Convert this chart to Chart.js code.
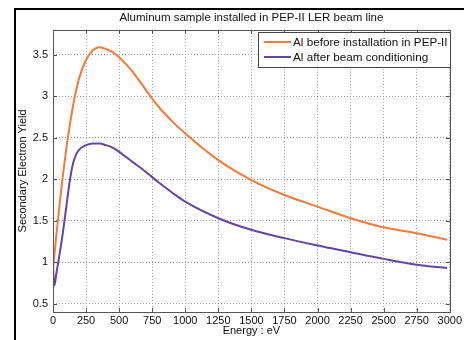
<!DOCTYPE html>
<html>
<head>
<meta charset="utf-8">
<script src="https://cdn.jsdelivr.net/npm/chart.js@4.4.1/dist/chart.umd.min.js"></script>
<style>
  body { margin: 0; background: #fff; }
  canvas { display: block; }
</style>
</head>
<body>
<canvas id="sey" width="464" height="340"></canvas>
<script>
// values
const energy = [0, 10, 25, 50, 75, 100, 125, 150, 175, 200, 250, 300, 350, 400, 450, 500, 550, 600, 700, 800, 900, 1000, 1250, 1500, 1750, 2000, 2250, 2500, 2750, 2980];
const yieldBefore = [0.92, 1.08, 1.32, 1.70, 2.05, 2.36, 2.63, 2.87, 3.07, 3.23, 3.44, 3.55, 3.59, 3.57, 3.53, 3.47, 3.39, 3.30, 3.08, 2.87, 2.70, 2.55, 2.23, 1.99, 1.81, 1.67, 1.53, 1.42, 1.35, 1.27];
const yieldAfter = [0.95, 0.72, 0.86, 1.10, 1.36, 1.66, 1.96, 2.18, 2.30, 2.36, 2.41, 2.43, 2.43, 2.41, 2.38, 2.33, 2.27, 2.21, 2.09, 1.96, 1.84, 1.73, 1.53, 1.39, 1.29, 1.20, 1.12, 1.04, 0.97, 0.93];
const seriesLabels = ['Al before installation in PEP-II', 'Al after beam conditioning'];
const yTicks = [0.5, 1, 1.5, 2, 2.5, 3, 3.5];

const FONT = '"Liberation Sans", Arial, sans-serif';
const colors = ['#f57a3c', '#6446a4'];

function toPoints(vals) {
  return energy.map((e, i) => ({ x: e, y: vals[i] }));
}

// outer frame, axes box with inward ticks, legend box
const framePlugin = {
  id: 'frame',
  beforeDraw(chart) {
    const ctx = chart.ctx;
    ctx.save();
    ctx.fillStyle = '#fff';
    ctx.fillRect(0, 0, chart.width, chart.height);
    ctx.strokeStyle = '#000';
    ctx.lineWidth = 2;
    ctx.beginPath();
    ctx.moveTo(15, chart.height + 2);
    ctx.lineTo(15, 9);
    ctx.lineTo(chart.width + 2, 9);
    ctx.stroke();
    ctx.restore();
  },
  afterDraw(chart) {
    const ctx = chart.ctx;
    const a = chart.chartArea;
    const xs = chart.scales.x, ys = chart.scales.y;
    ctx.save();
    ctx.strokeStyle = '#555';
    ctx.lineWidth = 1;
    ctx.strokeRect(Math.round(a.left) + 0.5, Math.round(a.top) + 0.5, Math.round(a.right - a.left), Math.round(a.bottom - a.top));
    ctx.beginPath();
    xs.ticks.forEach(t => {
      const px = Math.round(xs.getPixelForValue(t.value)) + 0.5;
      ctx.moveTo(px, a.bottom); ctx.lineTo(px, a.bottom - 4);
      ctx.moveTo(px, a.top); ctx.lineTo(px, a.top + 4);
    });
    ys.ticks.forEach(t => {
      const py = Math.round(ys.getPixelForValue(t.value)) + 0.5;
      ctx.moveTo(a.left, py); ctx.lineTo(a.left + 4, py);
      ctx.moveTo(a.right, py); ctx.lineTo(a.right - 4, py);
    });
    ctx.stroke();

    // legend
    const bx = 258.5, by = 32.5, bw = 192, bh = 35;
    ctx.fillStyle = '#fff';
    ctx.fillRect(bx, by, bw, bh);
    ctx.strokeStyle = '#444';
    ctx.strokeRect(bx, by, bw, bh);
    ctx.font = '11.7px ' + FONT;
    ctx.textBaseline = 'middle';
    ctx.textAlign = 'left';
    chart.data.datasets.forEach((ds, i) => {
      const ly = 42 + i * 15;
      ctx.strokeStyle = ds.borderColor;
      ctx.lineWidth = 2;
      ctx.beginPath();
      ctx.moveTo(264, ly); ctx.lineTo(291, ly);
      ctx.stroke();
      ctx.fillStyle = '#111';
      ctx.fillText(ds.label, 293, ly + 0.5);
    });
    ctx.restore();
  }
};

new Chart(document.getElementById('sey'), {
  type: 'line',
  data: {
    datasets: [
      { label: seriesLabels[0], data: toPoints(yieldBefore), borderColor: colors[0], borderWidth: 2, pointRadius: 0, cubicInterpolationMode: 'monotone' },
      { label: seriesLabels[1], data: toPoints(yieldAfter), borderColor: colors[1], borderWidth: 2, pointRadius: 0, cubicInterpolationMode: 'monotone' }
    ]
  },
  options: {
    responsive: false,
    animation: false,
    layout: { padding: { left: 0, right: 10, top: 0, bottom: 0 } },
    plugins: {
      legend: { display: false },
      tooltip: { enabled: false },
      title: {
        display: true,
        fullSize: false,
        text: 'Aluminum sample installed in PEP-II LER beam line',
        color: '#111',
        font: { family: FONT, size: 11.5, weight: 'normal' },
        padding: { top: 11, bottom: 5 }
      }
    },
    scales: {
      x: {
        type: 'linear',
        min: 0,
        max: 3000,
        afterFit: s => { s.height = 28; },
        ticks: { stepSize: 250, padding: 2, color: '#111', font: { family: FONT, size: 11 }, maxRotation: 0, autoSkip: false, callback: v => String(v) },
        grid: { color: '#a0a0a0', drawTicks: false },
        border: { display: false, dash: [1, 2] },
        title: { display: true, text: 'Energy : eV', color: '#111', font: { family: FONT, size: 11 }, padding: { top: 0, bottom: 2 } }
      },
      y: {
        min: 0.4,
        max: 3.8,
        afterFit: s => { s.width = 53; },
        afterBuildTicks: s => { s.ticks = yTicks.map(v => ({ value: v })); },
        ticks: { padding: 5, color: '#111', font: { family: FONT, size: 11 }, callback: v => String(v) },
        grid: { color: '#a0a0a0', drawTicks: false },
        border: { display: false, dash: [1, 2] },
        title: { display: true, text: 'Secondary Electron Yield', color: '#111', font: { family: FONT, size: 11 }, padding: { top: 16, bottom: 0 } }
      }
    }
  },
  plugins: [framePlugin]
});
</script>
</body>
</html>
